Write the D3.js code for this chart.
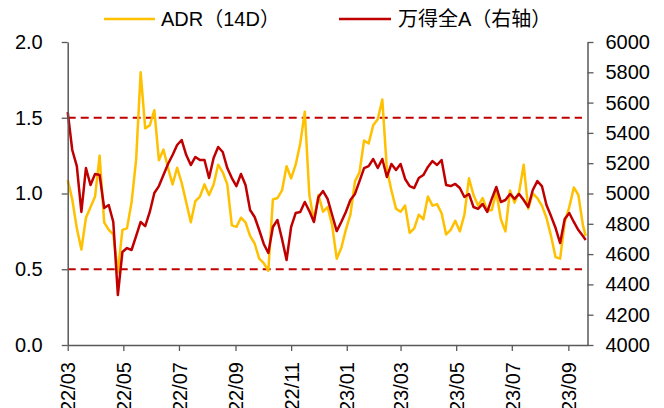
<!DOCTYPE html>
<html><head><meta charset="utf-8">
<script src="https://cdn.jsdelivr.net/npm/d3@7"></script>
<style>
html,body{margin:0;padding:0;background:#fff;}
svg text{font-family:"Liberation Sans",Arial,"Noto Sans CJK SC",sans-serif;}
</style></head>
<body><svg id="c" width="664" height="408"></svg>
<script>
const dates = [
"2022-03-01","2022-03-06","2022-03-11","2022-03-16","2022-03-21","2022-03-26","2022-03-31",
"2022-04-05","2022-04-10","2022-04-15","2022-04-20","2022-04-25","2022-04-30",
"2022-05-05","2022-05-10","2022-05-15","2022-05-20","2022-05-25","2022-05-30",
"2022-06-04","2022-06-09","2022-06-14","2022-06-19","2022-06-24","2022-06-29",
"2022-07-04","2022-07-09","2022-07-14","2022-07-19","2022-07-24","2022-07-29",
"2022-08-03","2022-08-08","2022-08-13","2022-08-18","2022-08-23","2022-08-28",
"2022-09-02","2022-09-07","2022-09-12","2022-09-17","2022-09-22","2022-09-27",
"2022-10-02","2022-10-07","2022-10-12","2022-10-17","2022-10-22","2022-10-27",
"2022-11-01","2022-11-06","2022-11-11","2022-11-16","2022-11-21","2022-11-26",
"2022-12-01","2022-12-06","2022-12-11","2022-12-16","2022-12-21","2022-12-26","2022-12-31",
"2023-01-05","2023-01-10","2023-01-15","2023-01-20","2023-01-25","2023-01-30",
"2023-02-04","2023-02-09","2023-02-14","2023-02-19","2023-02-24",
"2023-03-01","2023-03-06","2023-03-11","2023-03-16","2023-03-21","2023-03-26","2023-03-31",
"2023-04-05","2023-04-10","2023-04-15","2023-04-20","2023-04-25","2023-04-30",
"2023-05-05","2023-05-10","2023-05-15","2023-05-20","2023-05-25","2023-05-30",
"2023-06-04","2023-06-09","2023-06-14","2023-06-19","2023-06-24","2023-06-29",
"2023-07-04","2023-07-09","2023-07-14","2023-07-19","2023-07-24","2023-07-29",
"2023-08-03","2023-08-08","2023-08-13","2023-08-18","2023-08-23","2023-08-28",
"2023-09-02","2023-09-07","2023-09-12","2023-09-17","2023-09-20"];

const adr = [
1.09,0.96,0.77,0.63,0.84,0.91,0.98,
1.25,0.81,0.76,0.73,0.48,0.76,
0.77,0.94,1.22,1.80,1.43,1.45,
1.55,1.22,1.29,1.17,1.06,1.17,
1.07,0.94,0.81,0.95,0.98,1.06,
0.99,1.06,1.19,1.14,1.06,0.79,
0.78,0.84,0.81,0.72,0.67,0.57,
0.54,0.49,0.96,0.97,1.02,1.18,
1.10,1.19,1.33,1.54,0.99,0.82,
0.99,0.88,0.91,0.79,0.57,0.64,0.76,
0.86,1.08,1.14,1.35,1.33,1.45,
1.49,1.62,1.16,1.02,0.90,
0.88,0.92,0.74,0.77,0.86,0.83,0.98,
0.92,0.93,0.87,0.73,0.76,0.82,
0.75,0.86,1.10,0.99,0.92,0.97,
0.89,0.89,1.01,0.83,0.75,1.02,
0.94,1.01,1.19,0.90,1.00,0.97,
0.92,0.84,0.72,0.58,0.57,0.81,
0.91,1.04,0.99,0.79,0.72];

const wind = [
5538,5287,5181,4878,5168,5056,5129,
5122,4904,4924,4812,4330,4614,
4640,4627,4719,4812,4785,4878,
5003,5049,5122,5195,5254,5320,
5353,5254,5188,5241,5221,5221,
5102,5234,5307,5274,5168,5102,
5049,5129,5056,4891,4845,4759,
4667,4607,4779,4825,4700,4561,
4779,4871,4878,4944,4884,4812,
4977,5016,4964,4858,4752,4812,4878,
4957,4997,5082,5168,5181,5228,
5168,5228,5109,5195,5155,
5195,5096,5049,5036,5102,5122,5175,
5214,5188,5221,5056,5049,5063,
5036,4977,4997,4911,4898,4931,
4878,4964,5043,4944,4957,4997,
4964,4997,4957,4911,5023,5082,
5049,4924,4851,4772,4673,4832,
4871,4812,4759,4719,4693];

const leftTicks = [0, 0.5, 1.0, 1.5, 2.0];
const rightTicks = [4000,4200,4400,4600,4800,5000,5200,5400,5600,5800,6000];
const xTickLabels = ["22/03","22/05","22/07","22/09","22/11","23/01","23/03","23/05","23/07","23/09"];
const refLines = [1.5, 0.5];
const seriesNames = ["ADR（14D）","万得全A（右轴）"];

const parse = d3.timeParse("%Y-%m-%d");
const fmtIn = d3.timeParse("%y/%m");
const X0 = 67.7, X1 = 587.5, Y0 = 345, Y1 = 42;
const svg = d3.select("#c");
const x = d3.scaleTime().domain([parse("2022-03-01"), parse("2023-09-22")]).range([X0, X1]);
const yL = d3.scaleLinear().domain([0, 2]).range([Y0, Y1]);
const yR = d3.scaleLinear().domain([4000, 6000]).range([Y0, Y1]);
const axisColor = "#595959";
const yellow = "#FFC000", red = "#C00000";

// reference dashed lines
svg.selectAll("line.ref").data(refLines).join("line")
  .attr("x1", X0).attr("x2", 582).attr("y1", d => yL(d)).attr("y2", d => yL(d))
  .attr("stroke", red).attr("stroke-width", 2).attr("stroke-dasharray", "8,5");

// series
const pts = dates.map((d, i) => ({ d: parse(d), a: adr[i], w: wind[i] }));
svg.append("path").datum(pts)
  .attr("fill", "none").attr("stroke", yellow).attr("stroke-width", 2.5).attr("stroke-linejoin", "round")
  .attr("d", d3.line().x(p => x(p.d)).y(p => yL(p.a)));
svg.append("path").datum(pts)
  .attr("fill", "none").attr("stroke", red).attr("stroke-width", 2.5).attr("stroke-linejoin", "round")
  .attr("d", d3.line().x(p => x(p.d)).y(p => yR(p.w)));

function styleAxis(g) {
  g.selectAll("path.domain").attr("stroke", axisColor).attr("stroke-width", 1.5);
  g.selectAll(".tick line").attr("stroke", axisColor).attr("stroke-width", 1.3);
  g.selectAll("text").attr("fill", "#000").style("font-size", "20px")
    .style("font-family", '"Liberation Sans", Arial, sans-serif');
}

// left axis
svg.append("g").attr("transform", `translate(${X0},0)`)
  .call(d3.axisLeft(yL).tickValues(leftTicks).tickFormat(d3.format(".1f")).tickSize(6).tickSizeOuter(0).tickPadding(19))
  .call(styleAxis);

// right axis
svg.append("g").attr("transform", `translate(${X1},0)`)
  .call(d3.axisRight(yR).tickValues(rightTicks).tickFormat(d3.format("d")).tickSize(6).tickSizeOuter(0).tickPadding(12))
  .call(styleAxis);

// bottom axis
const xTicks = xTickLabels.map(s => fmtIn(s));
const gx = svg.append("g").attr("transform", `translate(0,${Y0})`)
  .call(d3.axisBottom(x).tickValues(xTicks).tickFormat(d3.timeFormat("%y/%m")).tickSize(6).tickSizeOuter(0))
  .call(styleAxis);
gx.selectAll(".tick text")
  .attr("transform", "rotate(-90)").attr("x", -17).attr("y", 0).attr("dy", "0.36em")
  .style("text-anchor", "end");

// legend
const legend = [
  { name: seriesNames[0], color: yellow, x1: 104, x2: 155, tx: 161 },
  { name: seriesNames[1], color: red, x1: 339, x2: 391, tx: 398 }
];
const lg = svg.append("g");
legend.forEach(l => {
  lg.append("line").attr("x1", l.x1).attr("x2", l.x2).attr("y1", 19).attr("y2", 19)
    .attr("stroke", l.color).attr("stroke-width", 2.5);
  lg.append("text").attr("x", l.tx).attr("y", 19).attr("dy", "0.35em")
    .style("font-size", "20px").attr("fill", "#000").text(l.name);
});
</script></body></html>
